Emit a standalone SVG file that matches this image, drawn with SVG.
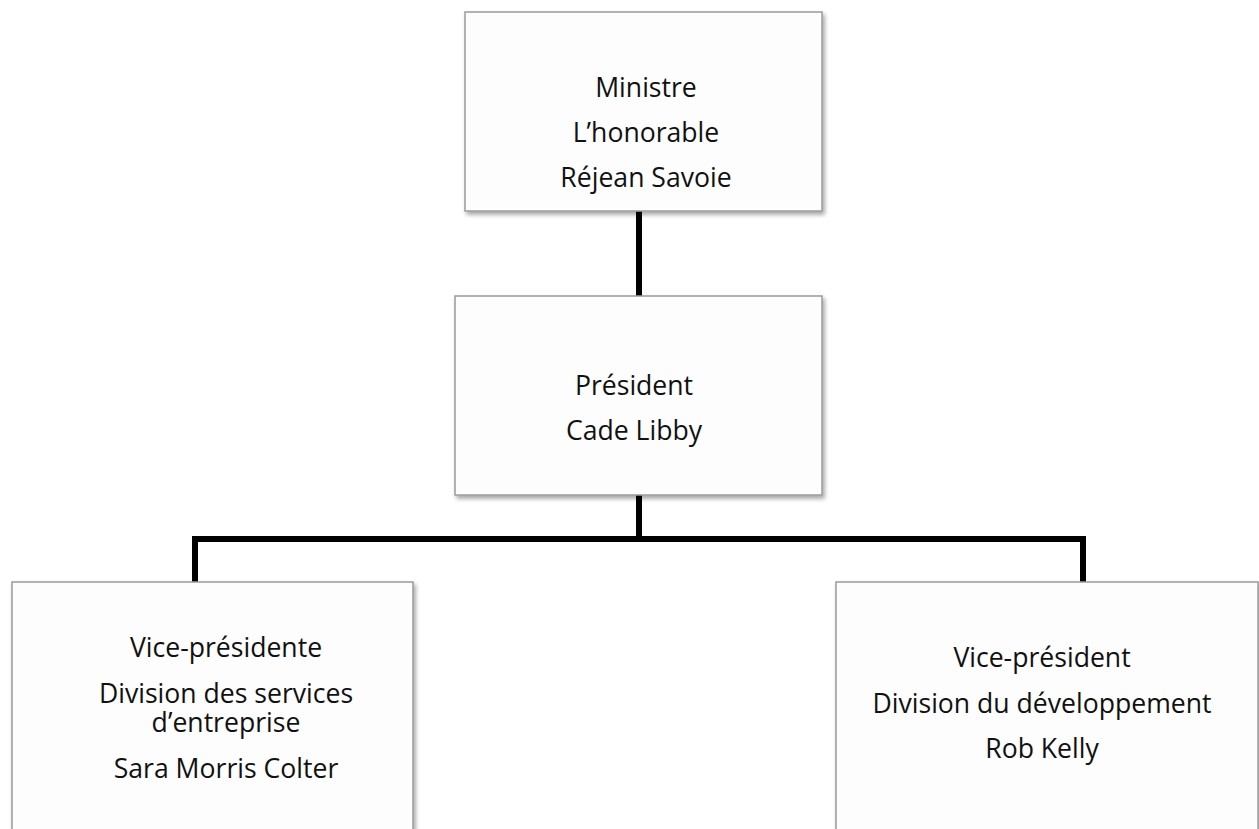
<svg xmlns="http://www.w3.org/2000/svg" width="1259" height="829" viewBox="0 0 1259 829">
<defs>
<filter id="sh" x="-5%" y="-5%" width="115%" height="115%">
<feDropShadow dx="2" dy="3" stdDeviation="2" flood-color="#000" flood-opacity="0.35"/>
</filter>
</defs>
<style>
.box{fill:#fdfdfd;stroke:#9a9a9a;stroke-width:1.5;filter:url(#sh)}
.t{font-family:"Open Sans","Noto Sans",sans-serif;font-size:26.6px;fill:#111;text-anchor:middle}
.c{fill:none;stroke:#000;stroke-width:6;stroke-linejoin:miter}
</style>
<rect width="1259" height="829" fill="#fff"/>
<g id="connectors">
<path class="c" d="M639 211 V296"/>
<path class="c" d="M639 495 V539"/>
<path class="c" d="M195 582 V539 H1083 V582"/>
</g>
<g id="ministre">
<rect class="box" x="465" y="12" width="357" height="199"/>
<text class="t" x="646" y="97">Ministre</text>
<text class="t" x="646" y="142">L’honorable</text>
<text class="t" x="646" y="187">Réjean Savoie</text>
</g>
<g id="president">
<rect class="box" x="455" y="296" width="367" height="199"/>
<text class="t" x="634" y="395">Président</text>
<text class="t" x="634" y="440">Cade Libby</text>
</g>
<g id="vp-services">
<rect class="box" x="12" y="582" width="401" height="260"/>
<text class="t" x="226" y="657">Vice-présidente</text>
<text class="t" x="226" y="703">Division des services</text>
<text class="t" x="226" y="732">d’entreprise</text>
<text class="t" x="226" y="778">Sara Morris Colter</text>
</g>
<g id="vp-developpement">
<rect class="box" x="836" y="582" width="422" height="260"/>
<text class="t" x="1042" y="667">Vice-président</text>
<text class="t" x="1042" y="713">Division du développement</text>
<text class="t" x="1042" y="758">Rob Kelly</text>
</g>
</svg>
